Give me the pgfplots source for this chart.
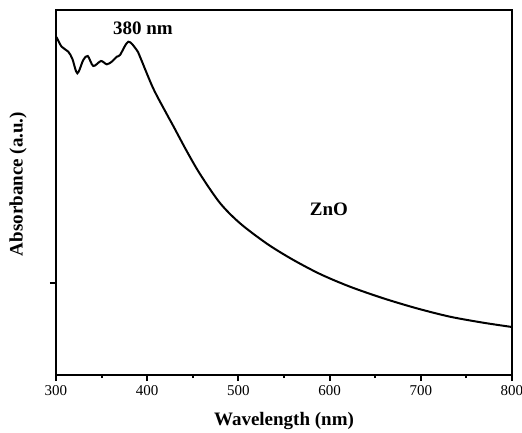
\documentclass[border=0pt]{standalone}
\usepackage{fontspec}
\setmainfont{Liberation Serif}
\usepackage{pgfplots}
\pgfplotsset{compat=1.18}

\begin{document}
\begin{tikzpicture}
\begin{axis}[
    scale only axis,
    width=456pt, height=365pt,
    xmin=300, xmax=800,
    ymin=0, ymax=365,
    axis line style={line width=2.6pt},
    xtick={300,400,...,800},
    minor x tick num=1,
    ytick={92}, yticklabels={},
    xtick pos=bottom, ytick pos=left,
    tick align=outside,
    major tick length=6pt, minor tick length=3pt,
    every tick/.style={black, line width=2pt},
    xticklabel={\fontsize{15}{17}\selectfont\pgfmathprintnumber[assume math mode=true]{\tick}},
    xticklabel style={yshift=-1pt},
    xlabel={Wavelength (nm)},
    ylabel={Absorbance (a.u.)},
    label style={font=\fontsize{19}{22}\selectfont\bfseries},
    xlabel style={at={(axis description cs:0.5,-0.126)}, anchor=center},
    ylabel style={at={(axis description cs:-0.083,0.523)}, anchor=center, rotate=0},
]
    % measured absorbance curve
    \addplot[black, line width=2pt, smooth, tension=0.5] coordinates {
        (300.5,338) (301.1,337) (306.2,328.3) (313.5,323.3) (318,316) (323.4,301.7)
        (329.9,315) (334.8,319) (340.9,309) (349.3,314) (355.6,310.7)
        (361.1,313.3) (366.6,318.3) (370.2,320) (379.3,333.3) (388.5,325)
        (392.1,318.3) (406.4,287) (421.4,261) (428.6,249) (443.3,224)
        (457.9,201) (479.8,172) (501.8,151.7) (531.0,131.5) (558.4,116)
        (589.5,101) (622.4,88.3) (658.9,76.7) (695.5,66.7) (732.0,58.3)
        (768.5,52.3) (800,48)
    };
    \node[font=\fontsize{19}{22}\selectfont\bfseries] at (axis cs:395.4,347) {380 nm};
    \node[font=\fontsize{19}{22}\selectfont\bfseries] at (axis cs:599.3,165.3) {ZnO};
\end{axis}
\pgfresetboundingbox
\path (-56pt,-57pt) rectangle (466pt,375pt);
\end{tikzpicture}
\end{document}
